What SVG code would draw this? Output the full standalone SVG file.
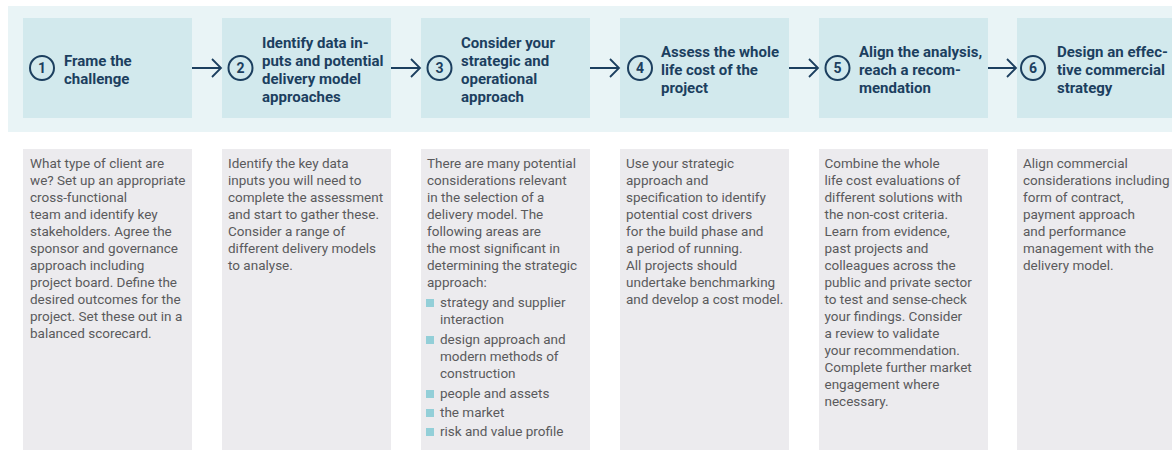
<svg xmlns="http://www.w3.org/2000/svg" width="1172" height="450" viewBox="0 0 1172 450">
<style>
.band{fill:#e9f4f6}
.hbox{fill:#d2e9ed}
.bbox{fill:#ecebee}
.num{fill:none;stroke:#1c3f5f;stroke-width:2}
.numt{font-family:Roboto,"Liberation Sans",sans-serif;font-weight:700;font-size:14px;fill:#1c3f5f;text-anchor:middle}
.ht{font-family:Roboto,"Liberation Sans",sans-serif;font-weight:700;font-size:15px;fill:#1c3f5f}
.bt{font-family:Roboto,"Liberation Sans",sans-serif;font-size:13.5px;fill:#5a5a5c}
.bul{fill:#93cfd8}
.conn{fill:none;stroke:#1c3f5f;stroke-width:1.8}
</style>
<rect class="band" x="8" y="6" width="1164" height="126"/>
<g id="node1">
<rect class="hbox" x="23" y="18" width="169" height="100"/>
<circle class="num" cx="42" cy="68" r="12"/>
<text class="numt" x="42" y="73">1</text>
<text class="ht"><tspan x="64" y="66">Frame the</tspan><tspan x="64" y="84">challenge</tspan></text>
<rect class="bbox" x="23" y="149" width="169" height="301"/>
<text class="bt"><tspan x="30" y="168">What type of client are</tspan><tspan x="30" y="185">we? Set up an appropriate</tspan><tspan x="30" y="202">cross-functional</tspan><tspan x="30" y="219">team and identify key</tspan><tspan x="30" y="236">stakeholders. Agree the</tspan><tspan x="30" y="253">sponsor and governance</tspan><tspan x="30" y="270">approach including</tspan><tspan x="30" y="287">project board. Define the</tspan><tspan x="30" y="304">desired outcomes for the</tspan><tspan x="30" y="321">project. Set these out in a</tspan><tspan x="30" y="338">balanced scorecard.</tspan></text>
</g>
<g id="node2">
<rect class="hbox" x="222" y="18" width="169" height="100"/>
<circle class="num" cx="240.5" cy="68" r="12"/>
<text class="numt" x="240.5" y="73">2</text>
<text class="ht"><tspan x="262" y="48">Identify data in-</tspan><tspan x="262" y="66">puts and potential</tspan><tspan x="262" y="84">delivery model</tspan><tspan x="262" y="102">approaches</tspan></text>
<rect class="bbox" x="222" y="149" width="169" height="301"/>
<text class="bt"><tspan x="228" y="168">Identify the key data</tspan><tspan x="228" y="185">inputs you will need to</tspan><tspan x="228" y="202">complete the assessment</tspan><tspan x="228" y="219">and start to gather these.</tspan><tspan x="228" y="236">Consider a range of</tspan><tspan x="228" y="253">different delivery models</tspan><tspan x="228" y="270">to analyse.</tspan></text>
</g>
<g id="node3">
<rect class="hbox" x="421" y="18" width="169" height="100"/>
<circle class="num" cx="439.5" cy="68" r="12"/>
<text class="numt" x="439.5" y="73">3</text>
<text class="ht"><tspan x="461" y="48">Consider your</tspan><tspan x="461" y="66">strategic and</tspan><tspan x="461" y="84">operational</tspan><tspan x="461" y="102">approach</tspan></text>
<rect class="bbox" x="421" y="149" width="169" height="301"/>
<text class="bt"><tspan x="427" y="168">There are many potential</tspan><tspan x="427" y="185">considerations relevant</tspan><tspan x="427" y="202">in the selection of a</tspan><tspan x="427" y="219">delivery model. The</tspan><tspan x="427" y="236">following areas are</tspan><tspan x="427" y="253">the most significant in</tspan><tspan x="427" y="270">determining the strategic</tspan><tspan x="427" y="287">approach:</tspan></text>
<rect class="bul" x="426" y="299" width="8" height="8"/>
<rect class="bul" x="426" y="336" width="8" height="8"/>
<rect class="bul" x="426" y="390" width="8" height="8"/>
<rect class="bul" x="426" y="409" width="8" height="8"/>
<rect class="bul" x="426" y="428" width="8" height="8"/>
<text class="bt"><tspan x="440" y="307">strategy and supplier</tspan><tspan x="440" y="324">interaction</tspan><tspan x="440" y="344">design approach and</tspan><tspan x="440" y="361">modern methods of</tspan><tspan x="440" y="378">construction</tspan><tspan x="440" y="398">people and assets</tspan><tspan x="440" y="417">the market</tspan><tspan x="440" y="436">risk and value profile</tspan></text>
</g>
<g id="node4">
<rect class="hbox" x="620" y="18" width="169" height="100"/>
<circle class="num" cx="640" cy="68" r="12"/>
<text class="numt" x="640" y="73">4</text>
<text class="ht"><tspan x="661" y="57">Assess the whole</tspan><tspan x="661" y="75">life cost of the</tspan><tspan x="661" y="93">project</tspan></text>
<rect class="bbox" x="620" y="149" width="169" height="301"/>
<text class="bt"><tspan x="626" y="168">Use your strategic</tspan><tspan x="626" y="185">approach and</tspan><tspan x="626" y="202">specification to identify</tspan><tspan x="626" y="219">potential cost drivers</tspan><tspan x="626" y="236">for the build phase and</tspan><tspan x="626" y="253">a period of running.</tspan><tspan x="626" y="270">All projects should</tspan><tspan x="626" y="287">undertake benchmarking</tspan><tspan x="626" y="304">and develop a cost model.</tspan></text>
</g>
<g id="node5">
<rect class="hbox" x="819" y="18" width="169" height="100"/>
<circle class="num" cx="837.5" cy="68" r="12"/>
<text class="numt" x="837.5" y="73">5</text>
<text class="ht"><tspan x="859" y="57">Align the analysis,</tspan><tspan x="859" y="75">reach a recom-</tspan><tspan x="859" y="93">mendation</tspan></text>
<rect class="bbox" x="819" y="149" width="169" height="301"/>
<text class="bt"><tspan x="824.5" y="168">Combine the whole</tspan><tspan x="824.5" y="185">life cost evaluations of</tspan><tspan x="824.5" y="202">different solutions with</tspan><tspan x="824.5" y="219">the non-cost criteria.</tspan><tspan x="824.5" y="236">Learn from evidence,</tspan><tspan x="824.5" y="253">past projects and</tspan><tspan x="824.5" y="270">colleagues across the</tspan><tspan x="824.5" y="287">public and private sector</tspan><tspan x="824.5" y="304">to test and sense-check</tspan><tspan x="824.5" y="321">your findings. Consider</tspan><tspan x="824.5" y="338">a review to validate</tspan><tspan x="824.5" y="355">your recommendation.</tspan><tspan x="824.5" y="372">Complete further market</tspan><tspan x="824.5" y="389">engagement where</tspan><tspan x="824.5" y="406">necessary.</tspan></text>
</g>
<g id="node6">
<rect class="hbox" x="1017" y="18" width="169" height="100"/>
<circle class="num" cx="1033" cy="68" r="12"/>
<text class="numt" x="1033" y="73">6</text>
<text class="ht"><tspan x="1057" y="57">Design an effec-</tspan><tspan x="1057" y="75">tive commercial</tspan><tspan x="1057" y="93">strategy</tspan></text>
<rect class="bbox" x="1017" y="149" width="169" height="301"/>
<text class="bt"><tspan x="1023" y="168">Align commercial</tspan><tspan x="1023" y="185">considerations including</tspan><tspan x="1023" y="202">form of contract,</tspan><tspan x="1023" y="219">payment approach</tspan><tspan x="1023" y="236">and performance</tspan><tspan x="1023" y="253">management with the</tspan><tspan x="1023" y="270">delivery model.</tspan></text>
</g>
<g id="connectors">
<path class="conn" d="M192 68H221M212 59L221 68L212 77"/>
<path class="conn" d="M391 68H420M411 59L420 68L411 77"/>
<path class="conn" d="M590 68H619M610 59L619 68L610 77"/>
<path class="conn" d="M789 68H818M809 59L818 68L809 77"/>
<path class="conn" d="M988 68H1016M1007 59L1016 68L1007 77"/>
</g>
</svg>
